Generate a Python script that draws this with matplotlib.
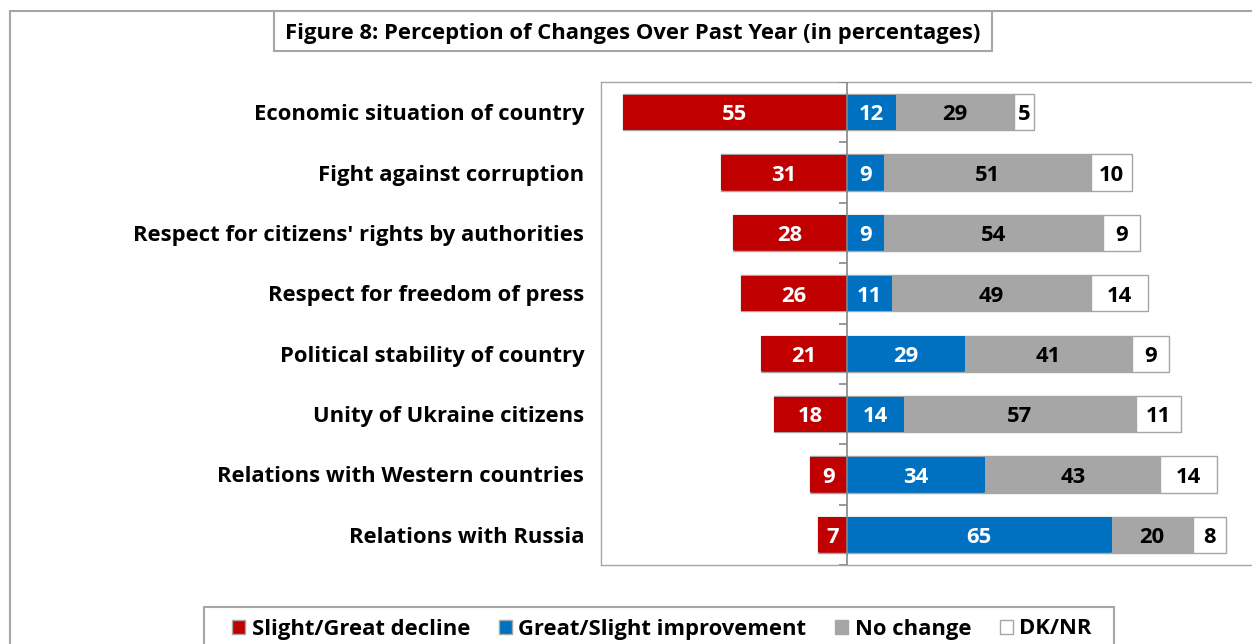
import numpy as np
import matplotlib.pyplot as plt
from matplotlib.patches import Rectangle, Patch

plt.rcParams['font.family'] = ['Open Sans', 'DejaVu Sans']
plt.rcParams['font.weight'] = 'bold'

topics = ['Economic situation of country', 'Fight against corruption',
          "Respect for citizens' rights by authorities", 'Respect for freedom of press',
          'Political stability of country', 'Unity of Ukraine citizens',
          'Relations with Western countries', 'Relations with Russia']
decline = [55, 31, 28, 26, 21, 18, 9, 7]
improve = [12, 9, 9, 11, 29, 14, 34, 65]
nochange = [29, 51, 54, 49, 41, 57, 43, 20]
dknr = [5, 10, 9, 14, 9, 11, 14, 8]
series_names = ['Slight/Great decline', 'Great/Slight improvement', 'No change', 'DK/NR']

red = '#c00000'
blue = '#0070c0'
grey = '#a6a6a6'
edge = '#a6a6a6'

W, H = 1252, 644
fig = plt.figure(figsize=(W / 100, H / 100), dpi=100)

def fx(px):
    return px / W

def fy(py):
    return 1 - py / H

# plot area: right side runs off the page
ax = fig.add_axes([fx(601), fy(565), fx(1254) - fx(601), fy(82) - fy(565)])
ax.set_xlim(-60.4, 100)
ax.set_ylim(len(topics) - 0.5, -0.5)

y = np.arange(len(topics))
dec = np.array(decline)
imp = np.array(improve)
nc = np.array(nochange)
dk = np.array(dknr)
h = 0.6

ax.barh(y, -dec, height=h, color=red, edgecolor=edge, linewidth=1, zorder=2)
ax.barh(y, imp, height=h, color=blue, edgecolor=edge, linewidth=1, zorder=2)
ax.barh(y, nc, left=imp, height=h, color=grey, edgecolor=edge, linewidth=1, zorder=2)
ax.barh(y, dk, left=imp + nc, height=h, color='white', edgecolor=edge, linewidth=1, zorder=2)
# redraw fills so the inner borders don't show between segments
ax.barh(y, -dec, height=h - 0.02, color=red, linewidth=0, zorder=3)
ax.barh(y, imp, height=h - 0.02, color=blue, linewidth=0, zorder=3)
ax.barh(y, nc, left=imp, height=h - 0.02, color=grey, linewidth=0, zorder=3)

fs = 15.8

def value_label(x, yy, val, col):
    ax.annotate(str(val), (x, yy), xytext=(0, -2), textcoords='offset points',
                color=col, ha='center', va='center', fontsize=fs, fontweight='bold',
                zorder=5)

for i in range(len(topics)):
    value_label(-dec[i] / 2, y[i], dec[i], 'white')
    value_label(imp[i] / 2, y[i], imp[i], 'white')
    value_label(imp[i] + nc[i] / 2, y[i], nc[i], 'black')
    value_label(imp[i] + nc[i] + dk[i] / 2, y[i], dk[i], 'black')

# centre axis with small ticks between categories
ax.axvline(0, color='#868686', lw=1.2, zorder=4)
ax.hlines(np.arange(-0.5, len(topics)), -2.0, 0, color='#868686', lw=1.2, zorder=4)

ax.set_yticks(y)
ax.set_yticklabels(topics, fontsize=fs, fontweight='bold')
ax.tick_params(axis='y', length=0, pad=12)
ax.set_xticks([])
for s in ax.spines.values():
    s.set_color('#a6a6a6')
    s.set_linewidth(1)

# outer frame, title box and legend box
fig.patches.append(Rectangle((fx(10), fy(700)), 2, fy(11) - fy(700), transform=fig.transFigure,
                             fill=False, edgecolor='#a6a6a6', lw=1.5, clip_on=False))
fig.patches.append(Rectangle((fx(274), fy(51)), fx(992) - fx(274), fy(11) - fy(51),
                             transform=fig.transFigure, facecolor='white',
                             edgecolor='#a6a6a6', lw=1.5))
fig.patches.append(Rectangle((fx(204), fy(700)), fx(1114) - fx(204), fy(607) - fy(700),
                             transform=fig.transFigure, facecolor='white',
                             edgecolor='#a6a6a6', lw=1.5, clip_on=False))
fig.text(fx(633), fy(33), 'Figure 8: Perception of Changes Over Past Year (in percentages)',
         ha='center', va='center', fontsize=fs, fontweight='bold')

handles = [Patch(facecolor=red, edgecolor=edge), Patch(facecolor=blue, edgecolor=edge),
           Patch(facecolor=grey, edgecolor=edge), Patch(facecolor='white', edgecolor=edge)]
leg = fig.legend(handles, series_names, loc='center left',
                 bbox_to_anchor=(fx(232), fy(629)), ncol=4, fontsize=fs, frameon=False,
                 handlelength=0.6, handleheight=0.6, handletextpad=0.3,
                 columnspacing=1.3, borderpad=0, borderaxespad=0)

fig.savefig('out.png', dpi=100)
